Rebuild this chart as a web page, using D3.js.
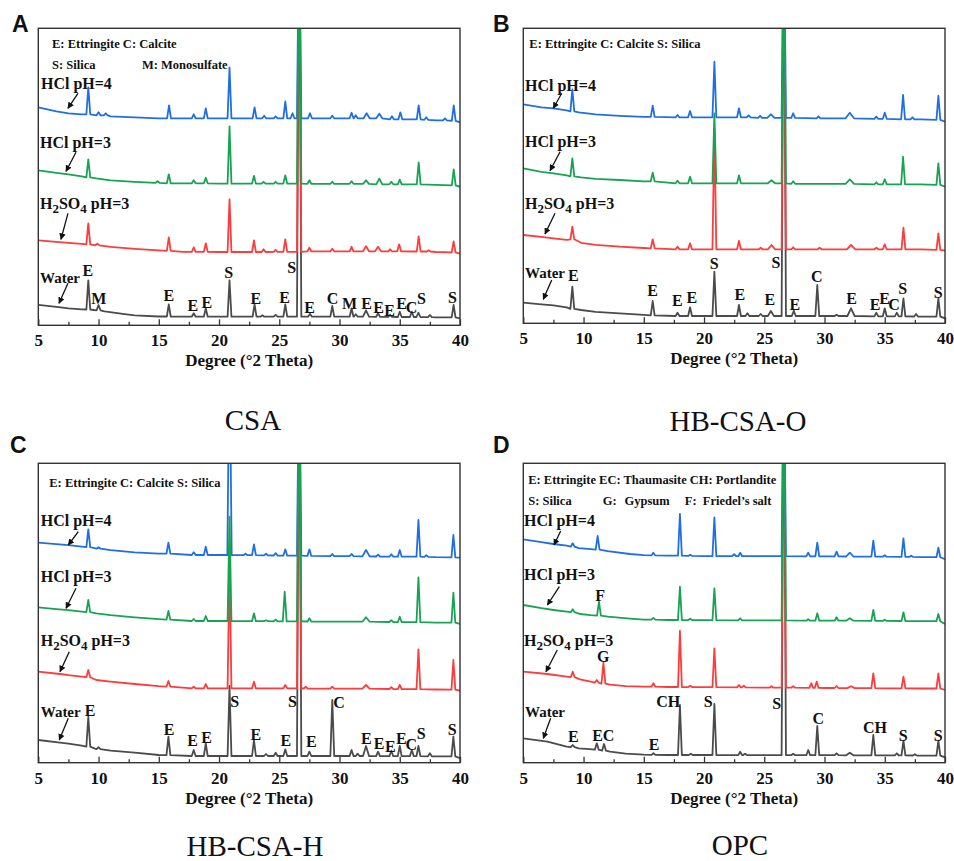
<!DOCTYPE html>
<html>
<head>
<meta charset="utf-8">
<script src="https://cdn.jsdelivr.net/npm/d3@7"></script>
<style>
  body { margin: 0; background: #fff; }
  svg text { font-family: "Liberation Serif", "Times New Roman", "DejaVu Serif", serif; font-weight: bold; fill: #111; }
  svg text.letter { font-family: "Liberation Sans", Arial, sans-serif; }
  svg text.caption { font-weight: normal; }
</style>
</head>
<body>
<svg id="chart" width="954" height="861"></svg>
<script>

// ---- shared values ----
var xTicks = [5, 10, 15, 20, 25, 30, 35, 40];
var xMinor = [7.5, 12.5, 17.5, 22.5, 27.5, 32.5, 37.5];
var traceNames = ["HCl pH=4", "HCl pH=3", "H2SO4 pH=3", "Water"];

// baselines are [2theta, intensity], peaks are [2theta, base, top, (half width)]

// ---- CSA ----
var csaHcl4Base = [[5,218],[6.5,214],[7.5,212],[8.6,211],[9.6,210.5],[11,209],[13,208],[15,207],[20,207],[25,207],[30,207],[35,206],[38,205],[40,203]];
var csaHcl4Peaks = [[9.15,211,238],[10.0,210,213],[10.6,210,212],[15.85,207,220],[17.9,207,211],[18.9,207,217],[20.87,207,258],[22.95,207,218],[23.75,207,209.5],[24.7,207,209],[25.5,207,224],[26.1,207,212],[26.65,207,420,0.18],[27.55,207,212],[29.4,207,209.5],[31.0,207,212.5],[31.35,207,210],[32.25,207,212,0.25],[33.3,207,211.5,0.25],[34.35,206,209],[35.05,206,213],[36.57,206,220],[37.2,205.5,208],[38.75,205,207],[39.48,204.5,220]];
var csaHcl3Base = [[5,155],[6.5,152.5],[7.5,151],[8.6,149],[9.8,147],[11,145],[13,143.5],[15,142.5],[20,141.7],[25,141.7],[30,141.5],[35,141],[38,140.5],[40,138.5]];
var csaHcl3Peaks = [[9.15,148,166],[14.9,142.5,144],[15.83,142,151],[17.9,142,145],[18.9,142,147.5],[20.87,141.7,199],[22.9,141.7,149.5],[23.7,141.7,143.5],[24.7,141.7,143.5],[25.5,141.7,150],[26.65,141.7,420,0.18],[27.5,141.5,145],[29.4,141.5,143.5],[31.0,141.5,144],[32.2,141.5,145,0.25],[33.3,141,146.7,0.25],[34.3,141,143.5],[35.0,141,145.7],[36.57,141,163],[39.48,140,156]];
var csaAcidBase = [[5,85],[6.5,83.5],[7.5,82.5],[8.6,81.5],[9.8,80],[11,78.5],[13,76.5],[15,75],[17,73.5],[20,73.3],[25,73.5],[30,74],[35,73.8],[38,73.3],[40,71.7]];
var csaAcidPeaks = [[9.15,81,102],[9.9,80,81.5],[15.83,74.5,88],[17.9,73.5,78],[18.9,73.5,82],[20.87,73.3,126],[22.9,73.3,85],[23.7,73.3,76],[24.7,73.5,75.5],[25.5,73.5,86],[26.65,73.5,420,0.18],[27.5,74,77.5],[29.4,74,76.5],[31.0,74,78.5],[32.2,74,79,0.25],[33.2,74,78.5,0.25],[34.2,74,76],[34.95,74,81],[36.57,73.8,89],[37.4,73.8,75],[39.47,73,84]];
var csaWaterBase = [[5,20.5],[6.5,18.5],[7.5,17],[8.6,16],[9.6,15.3],[10.5,14],[12,11.5],[13,10],[15,8.8],[20,8.6],[25,8.6],[30,8.6],[35,8.3],[38,8],[40,7]];
var csaWaterPeaks = [[9.15,15.8,45],[10.0,15,20.3],[15.83,8.8,21],[17.9,8.6,12],[18.9,8.6,17],[20.87,8.6,45],[22.95,8.6,21],[23.6,8.6,10],[24.7,8.6,10.5],[25.5,8.6,21],[26.65,8.6,420,0.18],[27.55,8.6,11.5],[29.4,8.6,19.3],[31.0,8.6,17],[31.35,8.6,11],[32.2,8.6,15,0.25],[33.2,8.5,12],[34.2,8.4,10.5],[35.0,8.3,13.6],[36.0,8.3,13.6],[36.55,8.3,12.6],[37.5,8.1,10.3],[39.47,8,20.3]];
var csaMarks = [["E",9.12,55.3],["M",10.03,27.3],["E",15.84,30.3],["E",17.83,20.3],["E",18.99,23.3],["S",20.81,53.3],["E",23.05,27.3],["E",25.45,28.3],["S",26.03,58.3],["E",27.52,18.3],["C",29.43,27.3],["M",30.84,22.3],["E",32.25,22.3],["E",33.24,18.3],["E",34.16,15.3],["E",35.15,22.3],["C",35.98,18.3],["S",36.81,27.3],["S",39.38,28.3]];
var csaNameAt = [[5.22,242],[5.14,183],[5.14,122],[5.14,48]];
var csaArrows = [[8.29,232,7.46,217],[8.13,173,7.3,154],[7.46,112,6.88,86],[7.46,42,6.72,22]];
var csaLegend = [["E: Ettringite C: Calcite",6.14,282],["S: Silica",6.14,260.3],["M: Monosulfate",13.6,260.3]];

// ---- HB-CSA-O ----
var hboHcl4Base = [[5,219],[6.5,216],[7.5,215],[8.6,213],[9.6,211],[11,209],[13,207.5],[15,206.5],[20,206],[25,205.5],[30,205],[35,204.5],[38,204],[40,201.6]];
var hboHcl4Peaks = [[9.07,212,234],[15.74,206.5,217.6],[17.8,206,208.3],[18.84,206,212.3],[20.86,206,261.6],[22.9,206,215],[23.7,206,208],[24.65,205.5,207.5],[25.55,205.5,209,0.3],[26.62,205.5,420,0.18],[27.4,205.5,210],[29.5,205,207],[32.1,205,210.6,0.35],[34.3,204.5,206.6],[35.0,204.5,210.6],[36.52,204,228.3],[37.3,204,206],[39.45,203.5,227.6]];
var hboHcl3Base = [[5,155],[6.5,151.5],[7.5,150],[8.6,148],[9.8,146],[11,144.5],[13,143.3],[15,142],[20,140],[25,140],[30,139.5],[35,139],[38,139],[40,136.6]];
var hboHcl3Peaks = [[9.07,147,165],[15.74,142,150.6],[17.8,140,142.6],[18.84,140,146.6],[20.86,140,210],[22.9,140,148],[25.6,140,143,0.3],[26.62,140,420,0.18],[27.4,139.5,142],[32.1,139.5,144,0.35],[34.3,139,141],[35.0,139,144],[36.52,139,166.6],[39.45,138.5,160]];
var hboAcidBase = [[5,88.3],[6.5,86.5],[7.5,85],[8.6,83.5],[9.8,80.5],[11,78.5],[13,76.6],[15,75.3],[20,74],[25,74],[30,74],[35,74],[38,74],[40,72.6]];
var hboAcidPeaks = [[9.07,84,96.6],[15.74,75,84],[17.8,74,76.6],[18.84,74,80],[20.86,74,195],[22.9,74,82.3],[24.7,74,75.5],[25.6,74,78.3,0.3],[26.62,74,420,0.18],[27.4,74,76],[29.6,74,75.6],[32.2,74,78.3,0.35],[34.3,74,75.6],[35.0,74,79],[36.55,74,95.6],[39.45,73.5,90]];
var hboWaterBase = [[5,20.6],[6.5,19],[7.5,18],[8.6,16],[9.8,13.3],[11,11.5],[13,10],[15,8.5],[20,7.3],[25,7.3],[30,7.3],[35,7],[38,6.6],[40,5]];
var hboWaterPeaks = [[9.07,14.5,36.6],[15.74,8,22.3],[17.8,7.3,10.6],[18.84,7.3,16],[20.86,7.3,51.6],[22.9,7.3,18.3],[23.6,7.3,10],[24.7,7.3,9.3],[25.55,7.3,12.3,0.25],[26.62,7.3,420,0.18],[27.45,7.3,12.6],[29.4,7.3,38.3],[31.0,7.3,8.5],[32.2,7.3,15,0.3],[34.3,7,10.6],[35.0,7,15],[36.0,7,10.6],[36.55,7,25],[37.6,6.8,9.3],[39.45,6.6,25]];
var hboMarks = [["E",9.15,48.3],["E",15.74,33.3],["E",17.78,22.6],["E",18.98,26],["S",20.85,60],["E",22.98,29.3],["E",25.47,24],["S",25.97,60.6],["E",27.53,19.3],["C",29.35,46.6],["E",32.25,25],["E",34.19,19.3],["E",34.98,25],["C",35.78,19.3],["S",36.49,35],["S",39.44,30.6]];
var hboNameAt = [[5.14,238.3],[5.14,181.6],[5.14,120.3],[5.14,50.6]];
var hboArrows = [[8.19,230,7.49,215],[8.05,171.6,7.22,152.6],[7.63,110,6.8,89.3],[7.36,43.3,6.66,24]];
var hboLegend = [["E: Ettringite C: Calcite S: Silica",5.5,280]];

// ---- HB-CSA-H ----
var hbhHcl4Base = [[5,220],[6.5,218.5],[7.5,217.5],[8.6,216],[9.8,214.4],[11,212.5],[13,210.4],[15,209],[20,207.7],[25,207],[30,206.5],[35,206],[38,205.5],[40,205]];
var hbhHcl4Peaks = [[9.15,215.5,233.4],[10.0,214,215.5],[15.8,209,220],[17.9,207.7,210.4],[18.9,207.7,216],[20.87,207.7,420,0.18],[22.2,207.5,209],[22.9,207.5,218.4],[23.9,207.3,209],[24.7,207.2,209.5],[25.5,207,213.4],[26.65,207,420,0.18],[27.5,206.8,213.4],[29.4,206.5,208.7],[31.0,206.5,208.7],[32.2,206.3,212.7,0.3],[33.2,206.2,208],[34.3,206,208.5],[35.0,206,212.7],[36.55,206,242.7],[37.2,205.8,207.5],[39.45,205.3,227.7]];
var hbhHcl3Base = [[5,155.4],[6.5,153.5],[7.5,152.5],[8.6,151],[9.8,149.4],[11,147.5],[13,145.4],[15,143.5],[20,141.7],[25,141.3],[30,141],[35,140.5],[38,140],[40,138.7]];
var hbhHcl3Peaks = [[9.15,150.5,162.7],[15.8,143,151.7],[17.9,141.7,143.7],[18.9,141.7,146.7],[20.87,141.7,246],[22.9,141.5,149.4],[23.9,141.5,142.5],[24.7,141.4,143],[25.45,141.3,171],[26.65,141.3,420,0.18],[27.5,141.2,144.4],[32.2,141,145.4,0.3],[34.3,140.7,142.5],[35.0,140.5,146],[36.55,140.5,185.4],[39.45,140,170]];
var hbhAcidBase = [[5,91],[6.8,88.7],[7.5,87.5],[8.6,86],[9.8,82.7],[11,81],[13,78.7],[15,76.5],[20,74.4],[25,74.3],[30,74],[35,73.5],[38,73.2],[40,72]];
var hbhAcidPeaks = [[9.15,85.5,92.7],[15.8,76,81.7],[17.9,74.4,76],[18.9,74.4,78.7],[20.87,74.4,200],[22.9,74.3,81],[25.5,74.3,77.7],[26.65,74.3,420,0.18],[27.2,74.2,76],[29.4,74,76],[32.2,74,77.7,0.3],[34.3,73.7,75.5],[35.0,73.5,77.7],[36.55,73.5,113.4],[39.45,73,102.7]];
var hbhWaterBase = [[5,22.7],[6.8,20],[7.5,19],[8.6,17],[9.7,14],[11,12],[13,10],[15,7.7],[20,6.7],[25,6.7],[30,6.7],[35,6.5],[38,6.3],[40,4.5]];
var hbhWaterPeaks = [[9.15,16,46],[10.0,13.5,15.5],[15.8,7.5,26],[17.9,6.7,12.7],[18.9,6.7,19.4],[20.87,6.7,76.7],[22.9,6.7,22.7],[23.9,6.7,8.7],[24.7,6.7,10],[25.5,6.7,13.4],[26.65,6.7,420,0.18],[27.5,6.7,11],[29.4,6.7,62.7],[31.0,6.7,12.7],[31.5,6.7,9],[32.2,6.7,16.7,0.25],[33.2,6.6,11],[34.3,6.5,12],[35.0,6.5,16.7],[36.0,6.5,12.7],[36.55,6.5,16.7],[37.5,6.4,9.4],[39.45,6.3,26]];
var hbhMarks = [["E",9.29,52.7],["S",21.31,61],["E",15.86,33.4],["E",17.8,22.7],["E",18.96,25.4],["E",23.05,28.7],["E",25.54,22.7],["S",26.09,61],["E",27.67,21],["C",29.96,60],["E",32.23,24.4],["E",33.28,19.4],["E",34.22,16.7],["E",35.13,24.4],["C",35.96,18.7],["S",36.79,29.4],["S",39.36,33.4]];
var hbhNameAt = [[5.2,242.7],[5.2,186],[5.2,122.7],[5.2,51]];
var hbhArrows = [[8.32,231,7.49,217.7],[8.13,174.4,7.3,154.4],[7.57,111,6.8,91],[7.49,44.4,6.74,22.7]];
var hbhLegend = [["E: Ettringite C: Calcite S: Silica",5.91,280]];

// ---- OPC ----
var opcHcl4Base = [[5,223.4],[6.5,220.5],[7.5,218.7],[8.6,217],[9.6,214.5],[10.6,213.5],[12,211.5],[13.85,208.7],[15,207.5],[17,207],[20,206.5],[25,206.5],[30,206.3],[35,206],[38,205.5],[40,203.4]];
var opcHcl4Peaks = [[9.1,216,219.4],[11.17,213,226.7],[15.79,207.3,210],[18.0,207,248.7],[18.85,206.8,208],[20.86,206.5,245.4],[22.5,206.5,208.5],[23.0,206.5,210],[26.62,206.5,420,0.18],[28.65,206.3,210],[29.4,206.3,220],[31.0,206.3,211],[32.1,206.2,210,0.3],[34.05,206,222],[35.0,206,207.5],[36.55,205.8,224.4],[37.2,205.8,207],[39.45,205.5,215]];
var opcHcl3Base = [[5,157.7],[6.5,154.5],[7.5,152.7],[8.6,151],[9.7,148.7],[10.6,147.5],[12,146],[13.85,144],[15,143],[17,142.7],[20,142.5],[25,142.3],[30,142],[35,141.8],[38,141.5],[40,138.7]];
var opcHcl3Peaks = [[9.1,150.5,153.4],[11.28,147,161],[15.79,143,144.8],[18.0,142.7,176],[18.85,142.6,144],[20.86,142.5,174.4],[23.0,142.4,144.4],[26.62,142.3,420,0.18],[28.65,142,143.5],[29.4,142,149.4],[31.0,142,145.4],[32.1,142,144.5,0.3],[34.05,141.8,152.7],[35.0,141.8,143],[36.55,141.7,150.4],[39.45,141.5,148.7]];
var opcAcidBase = [[5,91],[7,88.7],[8.6,86],[9.7,83.4],[10.6,81],[12.2,78],[13.5,76.5],[15,76],[17,75.7],[20,75.5],[25,75],[30,74.7],[35,74.4],[38,74.2],[40,72.7]];
var opcAcidPeaks = [[9.1,85.5,91],[11.1,80,82.7],[11.65,79,100],[15.8,76,79.4],[18.0,75.7,132],[18.85,75.6,77],[20.86,75.5,114.4],[22.9,75.3,77.7],[23.3,75.3,77],[25.6,75,76.5],[26.62,75,420,0.18],[27.4,75,76.5],[28.9,74.8,79.4],[29.35,74.8,81],[31.0,74.7,76.7],[32.2,74.6,76.5,0.3],[34.05,74.5,89.4],[36.55,74.4,86],[39.45,74.2,89.4]];
var opcWaterBase = [[5,24.4],[7,21],[8.6,16],[9.6,14.4],[10.5,13.5],[12.2,11],[13.5,9],[15,8],[17,7.7],[20,7.7],[25,7.5],[30,7.5],[35,7.3],[38,7],[40,5.4]];
var opcWaterPeaks = [[9.1,15.5,17.7],[11.1,13,19.4],[11.7,12,18.7],[15.8,7.8,9.4],[18.0,7.7,57.7],[18.9,7.7,9],[20.86,7.7,58.7],[23.0,7.6,11],[23.4,7.6,9],[26.62,7.5,420,0.18],[27.4,7.5,9],[28.65,7.5,12.7],[29.4,7.5,36.7],[31.0,7.5,9.4],[32.1,7.4,10,0.3],[34.05,7.3,27.7],[36.0,7.3,9.4],[36.55,7.3,22],[37.5,7.2,8.5],[39.45,7,22]];
var opcMarks = [["E",9.15,26],["EC",11.64,27.7],["E",15.85,18.7],["CH",17.03,61],["S",20.35,61],["S",26.03,59.4],["C",29.48,44.4],["CH",34.19,35.4],["S",36.54,27.7],["S",39.44,27.7],["G",11.64,106],["F",11.37,167.7]];
var opcNameAt = [[5.06,242.7],[5.06,188.7],[5.06,122.7],[5.14,51]];
var opcArrows = [[8.1,231.7,7.55,217.7],[7.99,176,7.0,157.7],[7.82,112.7,6.88,91],[7.27,44.4,6.66,24.4]];
var opcLegend = [["E: Ettringite EC: Thaumasite CH: Portlandite",5.41,283.4],["S: Silica",5.41,262],["G:",11.59,262],["Gypsum",13.4,262],["F:",18.4,262],["Friedel\u2019s salt",19.9,262]];

// draw order: water, H2SO4, HCl pH=4, HCl pH=3
var colors = { water: "#4b4b4b", acid: "#ff3b3b", hcl4: "#1f6fe3", hcl3: "#18a353" };

var panels = [
  { letter: "A", caption: "CSA", left: 38.3, right: 460, top: 28.3, bottom: 325.3, lx: 12, ly: 32, cx: 253, cy: 430,
    series: [["water", csaWaterBase, csaWaterPeaks], ["acid", csaAcidBase, csaAcidPeaks], ["hcl4", csaHcl4Base, csaHcl4Peaks], ["hcl3", csaHcl3Base, csaHcl3Peaks]],
    marks: csaMarks, names: csaNameAt, arrows: csaArrows, legend: csaLegend },
  { letter: "B", caption: "HB-CSA-O", left: 523.3, right: 945, top: 28.3, bottom: 323.3, lx: 493, ly: 32, cx: 738, cy: 431,
    series: [["water", hboWaterBase, hboWaterPeaks], ["acid", hboAcidBase, hboAcidPeaks], ["hcl4", hboHcl4Base, hboHcl4Peaks], ["hcl3", hboHcl3Base, hboHcl3Peaks]],
    marks: hboMarks, names: hboNameAt, arrows: hboArrows, legend: hboLegend },
  { letter: "C", caption: "HB-CSA-H", left: 38.3, right: 460, top: 463.3, bottom: 762.7, lx: 10, ly: 453, cx: 255, cy: 856,
    series: [["water", hbhWaterBase, hbhWaterPeaks], ["acid", hbhAcidBase, hbhAcidPeaks], ["hcl4", hbhHcl4Base, hbhHcl4Peaks], ["hcl3", hbhHcl3Base, hbhHcl3Peaks]],
    marks: hbhMarks, names: hbhNameAt, arrows: hbhArrows, legend: hbhLegend },
  { letter: "D", caption: "OPC", left: 523.3, right: 945, top: 463.3, bottom: 762.7, lx: 493, ly: 453, cx: 740, cy: 855,
    series: [["water", opcWaterBase, opcWaterPeaks], ["acid", opcAcidBase, opcAcidPeaks], ["hcl4", opcHcl4Base, opcHcl4Peaks], ["hcl3", opcHcl3Base, opcHcl3Peaks]],
    marks: opcMarks, names: opcNameAt, arrows: opcArrows, legend: opcLegend }
];

var svg = d3.select("#chart");
var hw = 0.16;

svg.append("defs").append("marker")
    .attr("id", "head")
    .attr("viewBox", "0 0 10 10")
    .attr("refX", 9).attr("refY", 5)
    .attr("markerWidth", 5).attr("markerHeight", 5)
    .attr("orient", "auto")
  .append("path")
    .attr("d", "M0,0L10,5L0,10z")
    .attr("fill", "#111");

// merge baseline knots with peak triangles
function tracePoints(base, peaks) {
  var pts = [];
  base.forEach(function(b) {
    var near = peaks.some(function(p) { return Math.abs(b[0] - p[0]) < (p[3] || hw) + 0.05; });
    if (!near) pts.push(b);
  });
  peaks.forEach(function(p) {
    var w = p[3] || hw;
    pts.push([p[0] - w, p[1]], [p[0], p[2]], [p[0] + w, p[1]]);
  });
  pts.sort(function(a, b) { return a[0] - b[0]; });
  return pts;
}

function writeName(sel, name) {
  if (name.indexOf("H2SO4") === 0) {
    sel.append("tspan").text("H");
    sel.append("tspan").attr("dy", 4).attr("font-size", 13).text("2");
    sel.append("tspan").attr("dy", -4).text("SO");
    sel.append("tspan").attr("dy", 4).attr("font-size", 13).text("4");
    sel.append("tspan").attr("dy", -4).text(" pH=3");
  } else {
    sel.text(name);
  }
}

panels.forEach(function(p, i) {
  var x = d3.scaleLinear().domain([5, 40]).range([p.left, p.right]);
  var y = d3.scaleLinear().domain([0, p.bottom - p.top]).range([p.bottom, p.top]);
  var g = svg.append("g");

  g.append("clipPath").attr("id", "clip" + i)
    .append("rect")
      .attr("x", p.left).attr("y", p.top)
      .attr("width", p.right - p.left).attr("height", p.bottom - p.top);

  var line = d3.line()
      .x(function(d) { return x(d[0]); })
      .y(function(d) { return y(d[1]); });

  g.append("g").attr("clip-path", "url(#clip" + i + ")")
    .selectAll("path")
    .data(p.series)
    .enter().append("path")
      .attr("d", function(s) { return line(tracePoints(s[1], s[2])); })
      .attr("fill", "none")
      .attr("stroke", function(s) { return colors[s[0]]; })
      .attr("stroke-width", 1.8)
      .attr("stroke-linejoin", "round");

  // axis ticks point inward
  var ax = g.append("g")
      .attr("transform", "translate(0," + p.bottom + ")")
      .call(d3.axisBottom(x).tickValues(xTicks).tickSizeInner(-6).tickSizeOuter(0).tickPadding(9));
  ax.select(".domain").remove();
  ax.selectAll("line").attr("stroke", "#333").attr("stroke-width", 1.3);
  ax.selectAll("text").attr("font-size", 17);

  var mn = g.append("g")
      .attr("transform", "translate(0," + p.bottom + ")")
      .call(d3.axisBottom(x).tickValues(xMinor).tickSizeInner(-3.5).tickSizeOuter(0).tickFormat(""));
  mn.select(".domain").remove();
  mn.selectAll("line").attr("stroke", "#333").attr("stroke-width", 1.3);

  g.append("rect")
      .attr("x", p.left).attr("y", p.top)
      .attr("width", p.right - p.left).attr("height", p.bottom - p.top)
      .attr("fill", "none")
      .attr("stroke", "#333")
      .attr("stroke-width", 1.4);

  g.append("text")
      .attr("x", (p.left + p.right) / 2)
      .attr("y", p.bottom + 41)
      .attr("text-anchor", "middle")
      .attr("font-size", 17)
      .text("Degree (\u00B02 Theta)");

  // peak phase letters
  g.selectAll(".mark").data(p.marks).enter().append("text")
      .attr("x", function(d) { return x(d[1]); })
      .attr("y", function(d) { return y(d[2]); })
      .attr("dy", "0.35em")
      .attr("text-anchor", "middle")
      .attr("font-size", 16)
      .text(function(d) { return d[0]; });

  g.selectAll(".name").data(p.names).enter().append("text")
      .attr("x", function(d) { return x(d[0]); })
      .attr("y", function(d) { return y(d[1]); })
      .attr("dy", "0.35em")
      .attr("font-size", function(d, j) { return j === 3 ? 15 : 16; })
      .each(function(d, j) { writeName(d3.select(this), traceNames[j]); });

  g.selectAll(".arrow").data(p.arrows).enter().append("line")
      .attr("x1", function(d) { return x(d[0]); })
      .attr("y1", function(d) { return y(d[1]); })
      .attr("x2", function(d) { return x(d[2]); })
      .attr("y2", function(d) { return y(d[3]); })
      .attr("stroke", "#111")
      .attr("stroke-width", 1.3)
      .attr("marker-end", "url(#head)");

  g.selectAll(".legend").data(p.legend).enter().append("text")
      .attr("x", function(d) { return x(d[1]); })
      .attr("y", function(d) { return y(d[2]); })
      .attr("dy", "0.35em")
      .attr("font-size", 12.5)
      .text(function(d) { return d[0]; });

  svg.append("text")
      .attr("class", "letter")
      .attr("x", p.lx).attr("y", p.ly)
      .attr("font-size", 23)
      .text(p.letter);

  svg.append("text")
      .attr("class", "caption")
      .attr("x", p.cx).attr("y", p.cy)
      .attr("text-anchor", "middle")
      .attr("font-size", 29)
      .text(p.caption);
});

</script>
</body>
</html>
